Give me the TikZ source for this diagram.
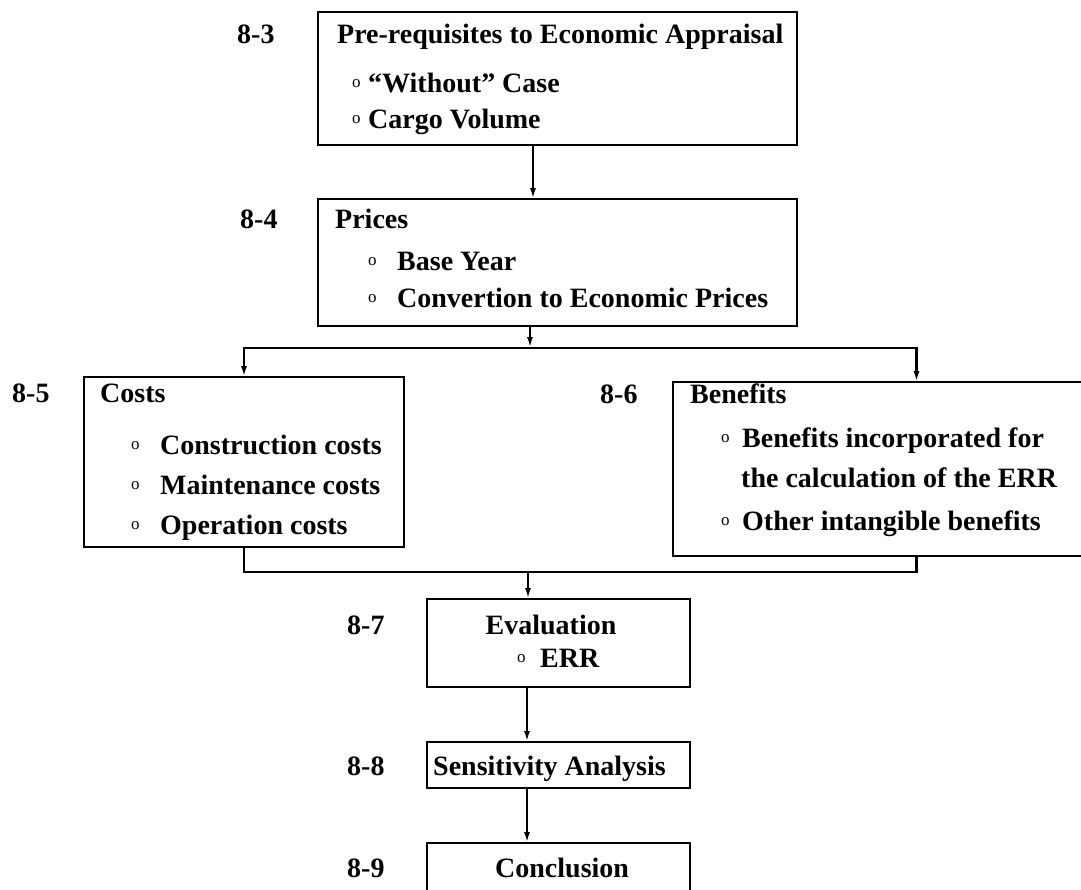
\documentclass[tikz,border=0pt]{standalone}
\usepackage{fontspec}
\setmainfont{Liberation Serif}
\usetikzlibrary{arrows.meta}
\begin{document}
\begin{tikzpicture}[x=1pt,y=-1pt,
  box/.style={draw, line width=2pt, inner sep=0pt, outer sep=0pt, anchor=north west},
  txt/.style={anchor=base west, inner sep=0pt, font=\fontsize{28}{34}\selectfont\bfseries},
  ctxt/.style={anchor=base, inner sep=0pt, font=\fontsize{28}{34}\selectfont\bfseries},
  num/.style={anchor=base west, inner sep=0pt, font=\fontsize{28}{34}\selectfont\bfseries},
  bul/.style={anchor=base west, inner sep=0pt, font=\fontsize{17}{20}\selectfont},
  con/.style={line width=2.2pt},
  arr/.style={con, -{Latex[length=11pt,width=6pt]}}]
\useasboundingbox (0,0) rectangle (1081,889);
\clip (0,0) rectangle (1081,889);

% boxes
\node[box, minimum width=479pt, minimum height=133pt] (b3) at (318,12) {};
\node[box, minimum width=479pt, minimum height=127pt] (b4) at (318,199) {};
\node[box, minimum width=320pt, minimum height=170pt] (b5) at (84,377) {};
\node[box, minimum width=487pt, minimum height=174pt] (b6) at (673,382) {};
\node[box, minimum width=263pt, minimum height=88pt] (b7) at (427,599) {};
\node[box, minimum width=263pt, minimum height=46pt] (b8) at (427,742) {};
\node[box, minimum width=263pt, minimum height=70pt] (b9) at (427,843) {};

% labels
\node[num] (l3) at (237,43) {8-3};
\node[num] (l4) at (240,228) {8-4};
\node[num] (l5) at (12,402) {8-5};
\node[num] (l6) at (600,403) {8-6};
\node[num] (l7) at (347,634) {8-7};
\node[num] (l8) at (347,775) {8-8};
\node[num] (l9) at (347,877) {8-9};

% 8-3
\node[txt] (t3a) at (337,43) {Pre-requisites to Economic Appraisal};
\node[bul] (o3b) at (352,87) {o};
\node[txt] (t3b) at (368,92) {“Without” Case};
\node[bul] (o3c) at (352,123) {o};
\node[txt] (t3c) at (368,128) {Cargo Volume};

% 8-4
\node[txt] (t4a) at (335,228) {Prices};
\node[bul] (o4b) at (368,265) {o};
\node[txt] (t4b) at (397,270) {Base Year};
\node[bul] (o4c) at (368,302) {o};
\node[txt] (t4c) at (397,307) {Convertion to Economic Prices};

% 8-5
\node[txt] (t5a) at (100,402) {Costs};
\node[bul] (o5b) at (131,449) {o};
\node[txt] (t5b) at (160,454) {Construction costs};
\node[bul] (o5c) at (131,489) {o};
\node[txt] (t5c) at (160,494) {Maintenance costs};
\node[bul] (o5d) at (131,529) {o};
\node[txt] (t5d) at (160,534) {Operation costs};

% 8-6
\node[txt] (t6a) at (690,403) {Benefits};
\node[bul] (o6b) at (721,442) {o};
\node[txt] (t6b) at (742,447) {Benefits incorporated for};
\node[txt] (t6c) at (741,487) {the calculation of the ERR};
\node[bul] (o6d) at (721,525) {o};
\node[txt] (t6d) at (742,530) {Other intangible benefits};

% 8-7
\node[ctxt] (t7a) at (551,634) {Evaluation};
\node[bul] (o7b) at (517,662) {o};
\node[txt] (t7b) at (540,667) {ERR};

% 8-8, 8-9
\node[txt] (t8) at (433,775) {Sensitivity Analysis};
\node[txt] (t9) at (495,877) {Conclusion};

% connectors
\coordinate (x34) at (533,0);
\draw[arr] (b3.south -| x34) -- (b4.north -| x34);
\coordinate (br) at (530,348);
\draw[arr] (b4.south -| br) -- (br);
\draw[arr] (br) -| (b5.north);
\draw[arr] (br) -| (b6.north);
\coordinate (jn) at (528,572);
\draw[con] (b5.south) |- (jn) -| (b6.south);
\draw[arr] (jn) -- (b7.north -| jn);
\coordinate (x78) at (527,0);
\draw[arr] (b7.south -| x78) -- (b8.north -| x78);
\draw[arr] (b8.south -| x78) -- (b9.north -| x78);
\end{tikzpicture}
\end{document}
